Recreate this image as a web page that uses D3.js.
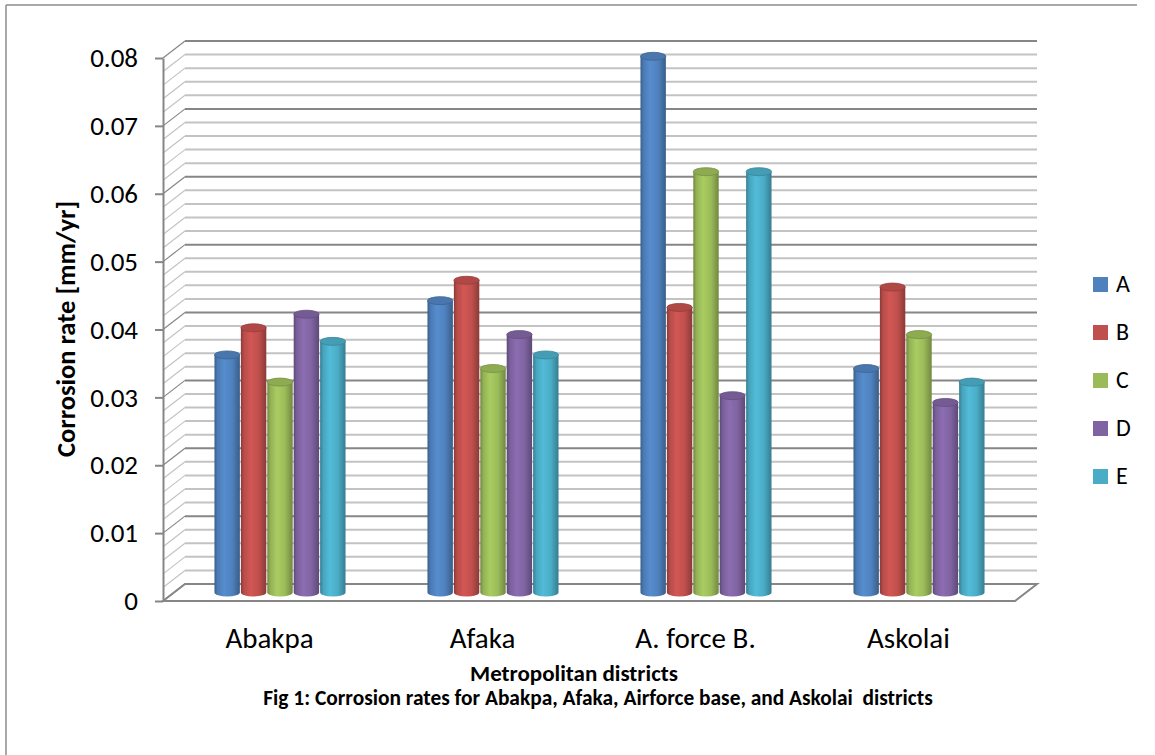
<!DOCTYPE html>
<html>
<head>
<meta charset="utf-8">
<script src="https://cdn.jsdelivr.net/npm/d3@7"></script>
<style>
  html, body { margin: 0; padding: 0; background: #fff; }
  svg { display: block; font-family: Carlito, Lato, "Open Sans", sans-serif; }
</style>
</head>
<body>
<svg id="chart" width="1155" height="755"></svg>
<script>
// Corrosion rates (mm/yr) per district, samples A–E
const districts = ["Abakpa", "Afaka", "A. force B.", "Askolai"];
const samples = ["A", "B", "C", "D", "E"];
const rateA = [0.035, 0.043, 0.079, 0.033];
const rateB = [0.039, 0.046, 0.042, 0.045];
const rateC = [0.031, 0.033, 0.062, 0.038];
const rateD = [0.041, 0.038, 0.029, 0.028];
const rateE = [0.037, 0.035, 0.062, 0.031];
const majorTicks = [0, 0.01, 0.02, 0.03, 0.04, 0.05, 0.06, 0.07, 0.08];
const tickLabels = ["0", "0.01", "0.02", "0.03", "0.04", "0.05", "0.06", "0.07", "0.08"];
const sampleColors = ["#4F81BD", "#C0504D", "#9BBB59", "#8064A2", "#4BACC6"];

const seriesValues = [rateA, rateB, rateC, rateD, rateE];

const svg = d3.select("#chart");

// 3D projection: front plane plus a depth offset towards the back wall
const depthX = 22, depthY = -17;
const x = d3.scaleBand().domain(districts).range([163, 1015]);
const y = d3.scaleLinear().domain([0, 0.08]).range([601, 58]);
const xInner = d3.scaleBand().domain(samples)
  .range([0, x.bandwidth() * 0.62]);
const groupOffset = (x.bandwidth() - xInner.range()[1]) / 2;
const color = d3.scaleOrdinal().domain(samples).range(sampleColors);

// outer frame
svg.append("line").attr("x1", 6).attr("y1", 5).attr("x2", 1137).attr("y2", 5)
  .attr("stroke", "#8c8c8c").attr("stroke-width", 1.5);
svg.append("line").attr("x1", 6).attr("y1", 5).attr("x2", 6).attr("y2", 755)
  .attr("stroke", "#8c8c8c").attr("stroke-width", 1.5);

// gridlines on back and side walls
const gridVals = d3.range(0, 0.0801, 0.002).map(v => +v.toFixed(3));
const grid = svg.append("g");
gridVals.forEach(v => {
  const isMajor = Math.abs(v * 100 - Math.round(v * 100)) < 1e-6;
  const stroke = isMajor ? "#868686" : "#c3c3c3";
  const yf = y(v), yb = y(v) + depthY;
  grid.append("line")
    .attr("x1", x.range()[0] + depthX).attr("y1", yb)
    .attr("x2", x.range()[1] + depthX).attr("y2", yb)
    .attr("stroke", stroke).attr("stroke-width", 2);
  grid.append("line")
    .attr("x1", x.range()[0]).attr("y1", yf)
    .attr("x2", x.range()[0] + depthX).attr("y2", yb)
    .attr("stroke", stroke).attr("stroke-width", 1.2);
});

// floor outline
const x0 = x.range()[0], x1 = x.range()[1], y0 = y(0);
svg.append("path")
  .attr("d", `M${x0},${y0} L${x1},${y0} L${x1 + depthX},${y0 + depthY} L${x0 + depthX},${y0 + depthY} Z`)
  .attr("fill", "none").attr("stroke", "#868686").attr("stroke-width", 2);

// value axis on the front left edge
const yAxis = d3.axisLeft(y)
  .tickValues(majorTicks)
  .tickFormat((d, i) => tickLabels[i])
  .tickSize(8).tickSizeOuter(0).tickPadding(17);
const yAxisG = svg.append("g").attr("transform", `translate(${x0},0)`).call(yAxis);
yAxisG.select(".domain").attr("stroke", "#868686").attr("stroke-width", 2);
yAxisG.selectAll(".tick line").attr("stroke", "#868686").attr("stroke-width", 2);
yAxisG.selectAll(".tick text").attr("font-size", 27).attr("fill", "#000")
  .attr("font-family", "Carlito, Lato, sans-serif");

// cylinder gradients per sample
const defs = svg.append("defs");
samples.forEach((s, i) => {
  const c = d3.color(color(s));
  const g = defs.append("linearGradient").attr("id", "cyl" + s)
    .attr("x1", "0%").attr("x2", "100%").attr("y1", "0%").attr("y2", "0%");
  g.append("stop").attr("offset", "0%").attr("stop-color", c.darker(0.9));
  g.append("stop").attr("offset", "12%").attr("stop-color", c.darker(0.15));
  g.append("stop").attr("offset", "38%").attr("stop-color", c.brighter(0.25));
  g.append("stop").attr("offset", "70%").attr("stop-color", c);
  g.append("stop").attr("offset", "100%").attr("stop-color", c.darker(0.9));
});

// cylinders, placed half-way into the depth
const midX = depthX / 2, midY = depthY / 2;
const ry = 4;
const bars = svg.append("g");
districts.forEach((dName, di) => {
  samples.forEach((s, si) => {
    const v = seriesValues[si][di];
    const w = xInner.bandwidth() - 1;
    const bx = x(dName) + groupOffset + xInner(s) + midX;
    const yTop = y(v) + midY;
    const yBase = y(0) + midY;
    const c = d3.color(color(s));
    bars.append("path")
      .attr("d", `M${bx},${yTop} L${bx},${yBase} A${w / 2},${ry} 0 0 0 ${bx + w},${yBase} L${bx + w},${yTop} Z`)
      .attr("fill", `url(#cyl${s})`);
    bars.append("ellipse")
      .attr("cx", bx + w / 2).attr("cy", yTop)
      .attr("rx", w / 2).attr("ry", ry)
      .attr("fill", c.darker(0.25))
      .attr("stroke", c.darker(0.7)).attr("stroke-width", 0.8);
  });
});

// category labels
const xAxis = d3.axisBottom(x).tickSize(0).tickPadding(0);
const xAxisG = svg.append("g").attr("transform", `translate(0,${y0})`).call(xAxis);
xAxisG.select(".domain").remove();
xAxisG.selectAll(".tick text").attr("y", 47).attr("dy", 0)
  .attr("font-size", 29).attr("fill", "#000")
  .attr("font-family", "Carlito, Lato, sans-serif");

// axis titles
svg.append("text")
  .attr("transform", "translate(75,329) rotate(-90)")
  .attr("text-anchor", "middle")
  .attr("font-size", 26.5).attr("font-weight", "bold")
  .text("Corrosion rate [mm/yr]");
svg.append("text")
  .attr("x", 574).attr("y", 681)
  .attr("text-anchor", "middle")
  .attr("font-size", 23).attr("font-weight", "bold")
  .text("Metropolitan districts");
svg.append("text")
  .attr("x", 598).attr("y", 705)
  .attr("text-anchor", "middle")
  .attr("font-size", 21.4).attr("font-weight", "bold")
  .style("white-space", "pre")
  .text("Fig 1: Corrosion rates for Abakpa, Afaka, Airforce base, and Askolai  districts");

// legend
const legend = svg.append("g");
samples.forEach((s, i) => {
  const ly = 284 + i * 48;
  legend.append("rect").attr("x", 1093).attr("y", ly - 7).attr("width", 15).attr("height", 15)
    .attr("fill", color(s));
  legend.append("text").attr("x", 1116).attr("y", ly + 8)
    .attr("font-size", 24).text(s);
});
</script>
</body>
</html>
